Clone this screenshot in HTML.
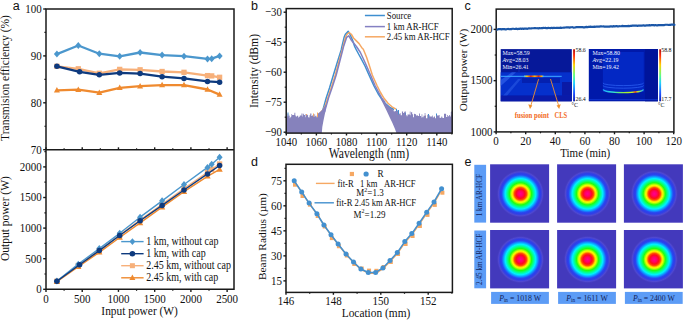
<!DOCTYPE html>
<html><head><meta charset="utf-8"><style>
html,body{margin:0;padding:0;background:#fff;width:685px;height:320px;overflow:hidden}
svg{display:block}
text{font-family:'Liberation Serif',serif}
</style></head><body>
<svg width="685" height="320" viewBox="0 0 685 320"><defs>
<linearGradient id="jet" x1="0" y1="0" x2="0" y2="1">
<stop offset="0" stop-color="#b01010"/><stop offset="0.12" stop-color="#ff3010"/><stop offset="0.3" stop-color="#ffd000"/>
<stop offset="0.5" stop-color="#60ff80"/><stop offset="0.65" stop-color="#20d0ff"/><stop offset="0.85" stop-color="#2050ff"/><stop offset="1" stop-color="#1020b0"/>
</linearGradient>
<linearGradient id="hot" x1="0" y1="0" x2="1" y2="0">
<stop offset="0" stop-color="#40c0ff"/><stop offset="0.15" stop-color="#ffd000"/><stop offset="0.35" stop-color="#e02010"/><stop offset="0.55" stop-color="#ffc000"/><stop offset="0.75" stop-color="#e02010"/><stop offset="0.9" stop-color="#ffb000"/><stop offset="1" stop-color="#40c0ff"/>
</linearGradient>
<linearGradient id="arc" x1="0" y1="0" x2="1" y2="0">
<stop offset="0" stop-color="#20b0ff"/><stop offset="0.25" stop-color="#30e0d0"/><stop offset="0.5" stop-color="#90f040"/><stop offset="0.72" stop-color="#c8f020"/><stop offset="0.8" stop-color="#ff5010"/><stop offset="0.86" stop-color="#b0f030"/><stop offset="1" stop-color="#20b0ff"/>
</linearGradient>
<radialGradient id="beam" cx="0.5" cy="0.5" r="0.5">
<stop offset="0" stop-color="#ff0090"/><stop offset="0.1" stop-color="#ff0068"/><stop offset="0.19" stop-color="#ff0a1a"/>
<stop offset="0.26" stop-color="#ff5000"/><stop offset="0.32" stop-color="#ffd800"/><stop offset="0.36" stop-color="#f0ff00"/>
<stop offset="0.46" stop-color="#20ff10"/><stop offset="0.56" stop-color="#00ffa0"/><stop offset="0.635" stop-color="#00f0ff"/>
<stop offset="0.72" stop-color="#1090ff"/><stop offset="0.785" stop-color="#2848f0"/><stop offset="0.84" stop-color="#2e3ee8"/>
<stop offset="0.92" stop-color="#5048d0"/><stop offset="1" stop-color="#4339bc" stop-opacity="0"/>
</radialGradient>
</defs><path d="M46,149.7 V9 H234 V289.3 H46 V149.7 H234" fill="none" stroke="#1a1a1a" stroke-width="1.5"/>
<line x1="43.2" y1="9" x2="46" y2="9" stroke="#1a1a1a" stroke-width="1.4" />
<text transform="translate(41.8,12.9) scale(1,1.18)" font-size="11" text-anchor="end" style="font-family:'Liberation Serif',serif" fill="#111" >100</text>
<line x1="43.2" y1="55.9" x2="46" y2="55.9" stroke="#1a1a1a" stroke-width="1.4" />
<text transform="translate(41.8,59.8) scale(1,1.18)" font-size="11" text-anchor="end" style="font-family:'Liberation Serif',serif" fill="#111" >90</text>
<line x1="43.2" y1="102.8" x2="46" y2="102.8" stroke="#1a1a1a" stroke-width="1.4" />
<text transform="translate(41.8,106.7) scale(1,1.18)" font-size="11" text-anchor="end" style="font-family:'Liberation Serif',serif" fill="#111" >80</text>
<line x1="43.2" y1="149.7" x2="46" y2="149.7" stroke="#1a1a1a" stroke-width="1.4" />
<text transform="translate(41.8,153.6) scale(1,1.18)" font-size="11" text-anchor="end" style="font-family:'Liberation Serif',serif" fill="#111" >70</text>
<line x1="44.4" y1="32.45" x2="46" y2="32.45" stroke="#1a1a1a" stroke-width="1.2" />
<line x1="44.4" y1="79.35" x2="46" y2="79.35" stroke="#1a1a1a" stroke-width="1.2" />
<line x1="44.4" y1="126.25" x2="46" y2="126.25" stroke="#1a1a1a" stroke-width="1.2" />
<line x1="43.2" y1="289.3" x2="46" y2="289.3" stroke="#1a1a1a" stroke-width="1.4" />
<text transform="translate(41.8,293.2) scale(1,1.18)" font-size="11" text-anchor="end" style="font-family:'Liberation Serif',serif" fill="#111" >0</text>
<line x1="43.2" y1="258.7" x2="46" y2="258.7" stroke="#1a1a1a" stroke-width="1.4" />
<text transform="translate(41.8,262.6) scale(1,1.18)" font-size="11" text-anchor="end" style="font-family:'Liberation Serif',serif" fill="#111" >500</text>
<line x1="43.2" y1="228.1" x2="46" y2="228.1" stroke="#1a1a1a" stroke-width="1.4" />
<text transform="translate(41.8,232) scale(1,1.18)" font-size="11" text-anchor="end" style="font-family:'Liberation Serif',serif" fill="#111" >1000</text>
<line x1="43.2" y1="197.5" x2="46" y2="197.5" stroke="#1a1a1a" stroke-width="1.4" />
<text transform="translate(41.8,201.4) scale(1,1.18)" font-size="11" text-anchor="end" style="font-family:'Liberation Serif',serif" fill="#111" >1500</text>
<line x1="43.2" y1="166.9" x2="46" y2="166.9" stroke="#1a1a1a" stroke-width="1.4" />
<text transform="translate(41.8,170.8) scale(1,1.18)" font-size="11" text-anchor="end" style="font-family:'Liberation Serif',serif" fill="#111" >2000</text>
<line x1="44.4" y1="274" x2="46" y2="274" stroke="#1a1a1a" stroke-width="1.2" />
<line x1="44.4" y1="243.4" x2="46" y2="243.4" stroke="#1a1a1a" stroke-width="1.2" />
<line x1="44.4" y1="212.8" x2="46" y2="212.8" stroke="#1a1a1a" stroke-width="1.2" />
<line x1="44.4" y1="182.2" x2="46" y2="182.2" stroke="#1a1a1a" stroke-width="1.2" />
<line x1="44.4" y1="151.6" x2="46" y2="151.6" stroke="#1a1a1a" stroke-width="1.2" />
<line x1="46" y1="289.3" x2="46" y2="291.9" stroke="#1a1a1a" stroke-width="1.4" />
<line x1="46" y1="149.7" x2="46" y2="147.3" stroke="#1a1a1a" stroke-width="1.4" />
<text transform="translate(46,303.3) scale(1,1.18)" font-size="11" text-anchor="middle" style="font-family:'Liberation Serif',serif" fill="#111" >0</text>
<line x1="82.22" y1="289.3" x2="82.22" y2="291.9" stroke="#1a1a1a" stroke-width="1.4" />
<line x1="82.22" y1="149.7" x2="82.22" y2="147.3" stroke="#1a1a1a" stroke-width="1.4" />
<text transform="translate(82.22,303.3) scale(1,1.18)" font-size="11" text-anchor="middle" style="font-family:'Liberation Serif',serif" fill="#111" >500</text>
<line x1="118.45" y1="289.3" x2="118.45" y2="291.9" stroke="#1a1a1a" stroke-width="1.4" />
<line x1="118.45" y1="149.7" x2="118.45" y2="147.3" stroke="#1a1a1a" stroke-width="1.4" />
<text transform="translate(118.45,303.3) scale(1,1.18)" font-size="11" text-anchor="middle" style="font-family:'Liberation Serif',serif" fill="#111" >1000</text>
<line x1="154.68" y1="289.3" x2="154.68" y2="291.9" stroke="#1a1a1a" stroke-width="1.4" />
<line x1="154.68" y1="149.7" x2="154.68" y2="147.3" stroke="#1a1a1a" stroke-width="1.4" />
<text transform="translate(154.68,303.3) scale(1,1.18)" font-size="11" text-anchor="middle" style="font-family:'Liberation Serif',serif" fill="#111" >1500</text>
<line x1="190.9" y1="289.3" x2="190.9" y2="291.9" stroke="#1a1a1a" stroke-width="1.4" />
<line x1="190.9" y1="149.7" x2="190.9" y2="147.3" stroke="#1a1a1a" stroke-width="1.4" />
<text transform="translate(190.9,303.3) scale(1,1.18)" font-size="11" text-anchor="middle" style="font-family:'Liberation Serif',serif" fill="#111" >2000</text>
<line x1="227.12" y1="289.3" x2="227.12" y2="291.9" stroke="#1a1a1a" stroke-width="1.4" />
<line x1="227.12" y1="149.7" x2="227.12" y2="147.3" stroke="#1a1a1a" stroke-width="1.4" />
<text transform="translate(227.12,303.3) scale(1,1.18)" font-size="11" text-anchor="middle" style="font-family:'Liberation Serif',serif" fill="#111" >2500</text>
<line x1="64.11" y1="289.3" x2="64.11" y2="290.8" stroke="#1a1a1a" stroke-width="1.2" />
<line x1="64.11" y1="149.7" x2="64.11" y2="148.3" stroke="#1a1a1a" stroke-width="1.2" />
<line x1="100.34" y1="289.3" x2="100.34" y2="290.8" stroke="#1a1a1a" stroke-width="1.2" />
<line x1="100.34" y1="149.7" x2="100.34" y2="148.3" stroke="#1a1a1a" stroke-width="1.2" />
<line x1="136.56" y1="289.3" x2="136.56" y2="290.8" stroke="#1a1a1a" stroke-width="1.2" />
<line x1="136.56" y1="149.7" x2="136.56" y2="148.3" stroke="#1a1a1a" stroke-width="1.2" />
<line x1="172.79" y1="289.3" x2="172.79" y2="290.8" stroke="#1a1a1a" stroke-width="1.2" />
<line x1="172.79" y1="149.7" x2="172.79" y2="148.3" stroke="#1a1a1a" stroke-width="1.2" />
<line x1="209.01" y1="289.3" x2="209.01" y2="290.8" stroke="#1a1a1a" stroke-width="1.2" />
<line x1="209.01" y1="149.7" x2="209.01" y2="148.3" stroke="#1a1a1a" stroke-width="1.2" />
<text transform="translate(139.6,315.3) scale(1,1.18)" font-size="11.4" text-anchor="middle" style="font-family:'Liberation Serif',serif" fill="#111" >Input power (W)</text>
<text transform="translate(8.5,78) rotate(-90)" font-size="11.5" text-anchor="middle" style="font-family:'Liberation Serif',serif" fill="#111">Transmision efficiency (%)</text>
<text transform="translate(9.2,218.6) rotate(-90)" font-size="11.5" text-anchor="middle" style="font-family:'Liberation Serif',serif" fill="#111">Output power (W)</text>
<text transform="translate(16.2,9.8) scale(1,1.08)" font-size="12.5" text-anchor="middle" style="font-family:'Liberation Sans',sans-serif" fill="#111" >a</text>
<polyline points="56.9,66.3 78.3,68.8 99.3,73.3 119.7,69.4 140.1,69.8 162.1,71.5 184,72.3 207.5,75.6 211.7,75.9 219.6,77.3" fill="none" stroke="#f7b07a" stroke-width="2.3" stroke-linejoin="round" />
<rect x="54.25" y="63.65" width="5.3" height="5.3" fill="#f7b07a"/>
<rect x="75.65" y="66.15" width="5.3" height="5.3" fill="#f7b07a"/>
<rect x="96.65" y="70.65" width="5.3" height="5.3" fill="#f7b07a"/>
<rect x="117.05" y="66.75" width="5.3" height="5.3" fill="#f7b07a"/>
<rect x="137.45" y="67.15" width="5.3" height="5.3" fill="#f7b07a"/>
<rect x="159.45" y="68.85" width="5.3" height="5.3" fill="#f7b07a"/>
<rect x="181.35" y="69.65" width="5.3" height="5.3" fill="#f7b07a"/>
<rect x="204.85" y="72.95" width="5.3" height="5.3" fill="#f7b07a"/>
<rect x="209.05" y="73.25" width="5.3" height="5.3" fill="#f7b07a"/>
<rect x="216.95" y="74.65" width="5.3" height="5.3" fill="#f7b07a"/>
<polyline points="56.9,90.3 78.3,89.7 99.3,92.7 119.7,87.8 140.1,86.2 162.1,85.1 184,85.1 207.5,89.5 219.6,94.6" fill="none" stroke="#ef8a2f" stroke-width="2.3" stroke-linejoin="round" />
<path d="M56.9,87 L59.9,92.5 L53.9,92.5Z" fill="#ef8a2f"/>
<path d="M78.3,86.4 L81.3,91.9 L75.3,91.9Z" fill="#ef8a2f"/>
<path d="M99.3,89.4 L102.3,94.9 L96.3,94.9Z" fill="#ef8a2f"/>
<path d="M119.7,84.5 L122.7,90 L116.7,90Z" fill="#ef8a2f"/>
<path d="M140.1,82.9 L143.1,88.4 L137.1,88.4Z" fill="#ef8a2f"/>
<path d="M162.1,81.8 L165.1,87.3 L159.1,87.3Z" fill="#ef8a2f"/>
<path d="M184,81.8 L187,87.3 L181,87.3Z" fill="#ef8a2f"/>
<path d="M207.5,86.2 L210.5,91.7 L204.5,91.7Z" fill="#ef8a2f"/>
<path d="M219.6,91.3 L222.6,96.8 L216.6,96.8Z" fill="#ef8a2f"/>
<polyline points="56.9,54.1 78.3,45.5 99.3,53.7 119.7,56.3 140.1,52.5 162.1,55.1 184,56.2 207.5,58.9 211.7,58.7 219.6,55.9" fill="none" stroke="#4b97cd" stroke-width="2.3" stroke-linejoin="round" />
<path d="M56.9,50.6 L59.9,54.1 L56.9,57.6 L53.9,54.1Z" fill="#4b97cd"/>
<path d="M78.3,42 L81.3,45.5 L78.3,49 L75.3,45.5Z" fill="#4b97cd"/>
<path d="M99.3,50.2 L102.3,53.7 L99.3,57.2 L96.3,53.7Z" fill="#4b97cd"/>
<path d="M119.7,52.8 L122.7,56.3 L119.7,59.8 L116.7,56.3Z" fill="#4b97cd"/>
<path d="M140.1,49 L143.1,52.5 L140.1,56 L137.1,52.5Z" fill="#4b97cd"/>
<path d="M162.1,51.6 L165.1,55.1 L162.1,58.6 L159.1,55.1Z" fill="#4b97cd"/>
<path d="M184,52.7 L187,56.2 L184,59.7 L181,56.2Z" fill="#4b97cd"/>
<path d="M207.5,55.4 L210.5,58.9 L207.5,62.4 L204.5,58.9Z" fill="#4b97cd"/>
<path d="M211.7,55.2 L214.7,58.7 L211.7,62.2 L208.7,58.7Z" fill="#4b97cd"/>
<path d="M219.6,52.4 L222.6,55.9 L219.6,59.4 L216.6,55.9Z" fill="#4b97cd"/>
<polyline points="56.9,66.3 79.6,71.8 99.3,74.8 119.7,72.9 140.1,73.6 162.1,76.7 184,78.4 207.5,81.4 219.6,82.2" fill="none" stroke="#0e3a7e" stroke-width="2.3" stroke-linejoin="round" />
<circle cx="56.9" cy="66.3" r="2.75" fill="#0e3a7e"/>
<circle cx="79.6" cy="71.8" r="2.75" fill="#0e3a7e"/>
<circle cx="99.3" cy="74.8" r="2.75" fill="#0e3a7e"/>
<circle cx="119.7" cy="72.9" r="2.75" fill="#0e3a7e"/>
<circle cx="140.1" cy="73.6" r="2.75" fill="#0e3a7e"/>
<circle cx="162.1" cy="76.7" r="2.75" fill="#0e3a7e"/>
<circle cx="184" cy="78.4" r="2.75" fill="#0e3a7e"/>
<circle cx="207.5" cy="81.4" r="2.75" fill="#0e3a7e"/>
<circle cx="219.6" cy="82.2" r="2.75" fill="#0e3a7e"/>
<polyline points="56.9,281.22 78.3,265.49 99.3,250.45 119.7,235.06 140.1,220.12 162.1,204.3 184,188.46 207.5,172.25 211.7,169.3 219.6,164.01" fill="none" stroke="#f7b07a" stroke-width="1.4" stroke-linejoin="round" />
<rect x="54.25" y="278.57" width="5.3" height="5.3" fill="#f7b07a"/>
<rect x="75.65" y="262.84" width="5.3" height="5.3" fill="#f7b07a"/>
<rect x="96.65" y="247.8" width="5.3" height="5.3" fill="#f7b07a"/>
<rect x="117.05" y="232.41" width="5.3" height="5.3" fill="#f7b07a"/>
<rect x="137.45" y="217.47" width="5.3" height="5.3" fill="#f7b07a"/>
<rect x="159.45" y="201.65" width="5.3" height="5.3" fill="#f7b07a"/>
<rect x="181.35" y="185.81" width="5.3" height="5.3" fill="#f7b07a"/>
<rect x="204.85" y="169.6" width="5.3" height="5.3" fill="#f7b07a"/>
<rect x="209.05" y="166.65" width="5.3" height="5.3" fill="#f7b07a"/>
<rect x="216.95" y="161.36" width="5.3" height="5.3" fill="#f7b07a"/>
<polyline points="56.9,281.69 78.3,266.71 99.3,252.31 119.7,237.5 140.1,222.9 162.1,207.14 184,191.64 207.5,176.29 219.6,169.42" fill="none" stroke="#ef8a2f" stroke-width="1.4" stroke-linejoin="round" />
<path d="M56.9,278.22 L60.05,284 L53.75,284Z" fill="#ef8a2f"/>
<path d="M78.3,263.25 L81.45,269.02 L75.15,269.02Z" fill="#ef8a2f"/>
<path d="M99.3,248.85 L102.45,254.62 L96.15,254.62Z" fill="#ef8a2f"/>
<path d="M119.7,234.04 L122.85,239.81 L116.55,239.81Z" fill="#ef8a2f"/>
<path d="M140.1,219.43 L143.25,225.21 L136.95,225.21Z" fill="#ef8a2f"/>
<path d="M162.1,203.68 L165.25,209.45 L158.95,209.45Z" fill="#ef8a2f"/>
<path d="M184,188.18 L187.15,193.95 L180.85,193.95Z" fill="#ef8a2f"/>
<path d="M207.5,172.83 L210.65,178.6 L204.35,178.6Z" fill="#ef8a2f"/>
<path d="M219.6,165.96 L222.75,171.73 L216.45,171.73Z" fill="#ef8a2f"/>
<polyline points="56.9,280.98 78.3,264.14 99.3,248.57 119.7,233.32 140.1,217.18 162.1,200.87 184,184.46 207.5,167.39 211.7,164.16 219.6,157.32" fill="none" stroke="#4b97cd" stroke-width="1.4" stroke-linejoin="round" />
<path d="M56.9,277.48 L59.9,280.98 L56.9,284.48 L53.9,280.98Z" fill="#4b97cd"/>
<path d="M78.3,260.64 L81.3,264.14 L78.3,267.64 L75.3,264.14Z" fill="#4b97cd"/>
<path d="M99.3,245.07 L102.3,248.57 L99.3,252.07 L96.3,248.57Z" fill="#4b97cd"/>
<path d="M119.7,229.82 L122.7,233.32 L119.7,236.82 L116.7,233.32Z" fill="#4b97cd"/>
<path d="M140.1,213.68 L143.1,217.18 L140.1,220.68 L137.1,217.18Z" fill="#4b97cd"/>
<path d="M162.1,197.37 L165.1,200.87 L162.1,204.37 L159.1,200.87Z" fill="#4b97cd"/>
<path d="M184,180.96 L187,184.46 L184,187.96 L181,184.46Z" fill="#4b97cd"/>
<path d="M207.5,163.89 L210.5,167.39 L207.5,170.89 L204.5,167.39Z" fill="#4b97cd"/>
<path d="M211.7,160.66 L214.7,164.16 L211.7,167.66 L208.7,164.16Z" fill="#4b97cd"/>
<path d="M219.6,153.82 L222.6,157.32 L219.6,160.82 L216.6,157.32Z" fill="#4b97cd"/>
<polyline points="56.9,281.22 79.6,264.72 99.3,250.59 119.7,235.53 140.1,220.76 162.1,205.38 184,189.98 207.5,173.94 219.6,165.54" fill="none" stroke="#0e3a7e" stroke-width="1.4" stroke-linejoin="round" />
<circle cx="56.9" cy="281.22" r="2.75" fill="#0e3a7e"/>
<circle cx="79.6" cy="264.72" r="2.75" fill="#0e3a7e"/>
<circle cx="99.3" cy="250.59" r="2.75" fill="#0e3a7e"/>
<circle cx="119.7" cy="235.53" r="2.75" fill="#0e3a7e"/>
<circle cx="140.1" cy="220.76" r="2.75" fill="#0e3a7e"/>
<circle cx="162.1" cy="205.38" r="2.75" fill="#0e3a7e"/>
<circle cx="184" cy="189.98" r="2.75" fill="#0e3a7e"/>
<circle cx="207.5" cy="173.94" r="2.75" fill="#0e3a7e"/>
<circle cx="219.6" cy="165.54" r="2.75" fill="#0e3a7e"/>
<line x1="121.2" y1="241.6" x2="143.6" y2="241.6" stroke="#4b97cd" stroke-width="1.4" />
<path d="M132.4,238.3 L135.3,241.6 L132.4,244.9 L129.5,241.6Z" fill="#4b97cd"/>
<text transform="translate(146.3,245) scale(1,1.18)" font-size="10" text-anchor="start" style="font-family:'Liberation Serif',serif" fill="#111" >1 km, without cap</text>
<line x1="121.2" y1="253.7" x2="143.6" y2="253.7" stroke="#0e3a7e" stroke-width="1.4" />
<circle cx="132.4" cy="253.7" r="2.8" fill="#0e3a7e"/>
<text transform="translate(146.3,257.1) scale(1,1.18)" font-size="10" text-anchor="start" style="font-family:'Liberation Serif',serif" fill="#111" >1 km, with cap</text>
<line x1="121.2" y1="265.7" x2="143.6" y2="265.7" stroke="#f7b07a" stroke-width="1.4" />
<rect x="129.9" y="263.2" width="5" height="5" fill="#f7b07a"/>
<text transform="translate(146.3,269.1) scale(1,1.18)" font-size="10" text-anchor="start" style="font-family:'Liberation Serif',serif" fill="#111" >2.45 km, without cap</text>
<line x1="121.2" y1="277.8" x2="143.6" y2="277.8" stroke="#ef8a2f" stroke-width="1.4" />
<path d="M132.4,274.56 L135.4,279.96 L129.4,279.96Z" fill="#ef8a2f"/>
<text transform="translate(146.3,281.2) scale(1,1.18)" font-size="10" text-anchor="start" style="font-family:'Liberation Serif',serif" fill="#111" >2.45 km, with cap</text>
<polyline points="322,113 324,106 326.2,98 329.5,88 333.4,75 337.4,62 341.2,50 341.9,46.75 344.1,37.4 345.4,34.25 348.2,31.4 350,34.25 352.5,40 354.75,46.75 356.4,50 360.5,57.5 365,66 369,75 374,86 378,93.5 382,99.5 386,104.2 390,107.5 394,109.5" fill="none" stroke="#3e8fd0" stroke-width="1.5" stroke-linejoin="round" />
<polyline points="320,113 323,110 325.5,105 327.8,98 331.5,87 335.3,75 338.8,62 342.2,50 343,46.75 345.3,38 346.8,34.5 349.1,32.5 351.3,34.25 353.5,38 356.6,41.1 359.1,43.6 361.6,47.4 363.3,49.2 366.5,57 369.5,66 372.3,75 377,85.5 380.5,92.5 384,98.3 388,103.3 392,106.8 396,109.2" fill="none" stroke="#f6a863" stroke-width="1.5" stroke-linejoin="round" />
<rect x="287.5" y="112.5" width="1" height="6" fill="#3e8fd0"/>
<rect x="306" y="114" width="1" height="6" fill="#f6a863"/>
<rect x="313" y="113.5" width="1" height="6" fill="#f6a863"/>
<rect x="317" y="112.5" width="1" height="6" fill="#f6a863"/>
<rect x="396" y="108.8" width="1" height="6" fill="#3e8fd0"/>
<rect x="398" y="110" width="1" height="6" fill="#3e8fd0"/>
<rect x="405" y="112.5" width="1" height="6" fill="#3e8fd0"/>
<rect x="428" y="114" width="1" height="6" fill="#3e8fd0"/>
<rect x="436" y="113.5" width="1" height="6" fill="#3e8fd0"/>
<rect x="425" y="115.5" width="1" height="6" fill="#f6a863"/>
<rect x="450.8" y="112" width="1" height="6" fill="#9a98d8"/>
<path d="M286.2,133.1 L286.2,116.69 L287.1,116.69 L287.1,113.69 L287.6,113.69 L287.6,116.25 L288.5,116.25 L288.5,114.59 L289.2,114.59 L289.2,115.69 L289.7,115.69 L289.7,118.16 L290.2,118.16 L290.2,117.2 L290.9,117.2 L290.9,116.57 L291.4,116.57 L291.4,113.96 L292.1,113.96 L292.1,114.94 L293,114.94 L293,114.92 L293.9,114.92 L293.9,114.74 L294.4,114.74 L294.4,112.76 L295.3,112.76 L295.3,115.39 L295.8,115.39 L295.8,116.43 L297,116.43 L297,115.65 L298.2,115.65 L298.2,117.62 L298.9,117.62 L298.9,116.85 L299.8,116.85 L299.8,115.41 L301,115.41 L301,115.4 L301.5,115.4 L301.5,113.5 L302.4,113.5 L302.4,116.42 L302.9,116.42 L302.9,113.73 L303.8,113.73 L303.8,114.95 L305,114.95 L305,117.31 L305.5,117.31 L305.5,114.02 L306,114.02 L306,115.34 L307.2,115.34 L307.2,114.78 L308.1,114.78 L308.1,117.14 L308.8,117.14 L308.8,117.41 L309.5,117.41 L309.5,115.31 L310.2,115.31 L310.2,113.4 L311.4,113.4 L311.4,116.09 L312.3,116.09 L312.3,115.31 L313.2,115.31 L313.2,116.78 L314.4,116.78 L314.4,114.34 L315.1,114.34 L315.1,116.27 L315.6,116.27 L315.6,115.7 L316.5,115.7 L316.5,117.26 L317.4,117.26 L317.4,117.32 L318,117.32 L318,113.5 L320,112 L322,110 L324.2,107 L325.8,104.5 L326.2,106 L325.5,111 L323.4,121 L322.3,127 L321.8,133.1Z" fill="#8682bc"/>
<path d="M396.4,133.1 L395,129 L392.2,122.5 L390,118 L386.5,110.5 L383,103.5 L380.5,98.6 L383,100.8 L386.5,104.3 L390,107.5 L393.5,110 L394,111.7 L394.5,111.7 L394.5,111.08 L395.7,111.08 L395.7,111.17 L396.9,111.17 L396.9,110.87 L397.6,110.87 L397.6,109.99 L398.1,109.99 L398.1,114.24 L398.6,114.24 L398.6,114.4 L399.1,114.4 L399.1,113.72 L399.8,113.72 L399.8,113.25 L400.7,113.25 L400.7,115.28 L401.9,115.28 L401.9,111.44 L403.1,111.44 L403.1,112.92 L404,112.92 L404,112.34 L404.7,112.34 L404.7,111.36 L405.6,111.36 L405.6,114.95 L406.1,114.95 L406.1,115.05 L406.6,115.05 L406.6,116.18 L407.5,116.18 L407.5,114.4 L408.2,114.4 L408.2,114.42 L409.1,114.42 L409.1,114.53 L409.8,114.53 L409.8,111.6 L410.5,111.6 L410.5,115.18 L411,115.18 L411,112.27 L412.2,112.27 L412.2,114.27 L413.1,114.27 L413.1,117.25 L414,117.25 L414,113.7 L414.7,113.7 L414.7,113.88 L415.6,113.88 L415.6,114.46 L416.1,114.46 L416.1,115.69 L416.6,115.69 L416.6,115.25 L417.8,115.25 L417.8,115.96 L419,115.96 L419,113.54 L419.9,113.54 L419.9,116.02 L421.1,116.02 L421.1,117.46 L421.6,117.46 L421.6,114.2 L422.3,114.2 L422.3,117.16 L423.5,117.16 L423.5,115.77 L424.7,115.77 L424.7,113.03 L425.4,113.03 L425.4,115.71 L425.9,115.71 L425.9,118.18 L427.1,118.18 L427.1,114.82 L427.8,114.82 L427.8,118.14 L428.5,118.14 L428.5,115.2 L429.7,115.2 L429.7,116.41 L430.9,116.41 L430.9,116.45 L432.1,116.45 L432.1,115.52 L432.8,115.52 L432.8,117.6 L433.3,117.6 L433.3,117.62 L433.8,117.62 L433.8,116.64 L434.5,116.64 L434.5,116.23 L435,116.23 L435,118.18 L436.2,118.18 L436.2,115.01 L436.7,115.01 L436.7,115.71 L437.2,115.71 L437.2,115.05 L437.7,115.05 L437.7,115.91 L438.4,115.91 L438.4,115.08 L439.6,115.08 L439.6,117.66 L440.5,117.66 L440.5,118.07 L441.2,118.07 L441.2,116.47 L441.7,116.47 L441.7,116.68 L442.4,116.68 L442.4,117.98 L443.3,117.98 L443.3,117.95 L444,117.95 L444,113.85 L444.9,113.85 L444.9,113.78 L446.1,113.78 L446.1,117.1 L447.3,117.1 L447.3,114.94 L448,114.94 L448,116.17 L449.2,116.17 L449.2,115.04 L450.1,115.04 L450.1,116.41 L451,116.41 L451,114.9 L451.5,114.9 L451.5,111.23 L452.2,111.23 L452.2,133.1Z" fill="#8682bc"/>
<polyline points="324.5,112 326.5,105 328.5,98 332.3,87 336.2,75 339.6,62 342.7,50 343.5,46.75 346.6,37.4 348.8,35.8 351.6,40.5 356.6,46.75 358.75,50 360.4,52.5 365.5,63.5 370.5,75 375,85.5 379,93 382,98.5 385,102.5" fill="none" stroke="#8480c2" stroke-width="1.5" stroke-linejoin="round" />
<rect x="286.2" y="8.6" width="166.0" height="124.5" fill="none" stroke="#1a1a1a" stroke-width="1.5"/>
<line x1="283.6" y1="12.2" x2="286.2" y2="12.2" stroke="#1a1a1a" stroke-width="1.4" />
<text transform="translate(281.8,15.9) scale(1,1.18)" font-size="10.8" text-anchor="end" style="font-family:'Liberation Serif',serif" fill="#111" >&#8722;30</text>
<line x1="283.6" y1="42.2" x2="286.2" y2="42.2" stroke="#1a1a1a" stroke-width="1.4" />
<text transform="translate(281.8,45.9) scale(1,1.18)" font-size="10.8" text-anchor="end" style="font-family:'Liberation Serif',serif" fill="#111" >&#8722;45</text>
<line x1="283.6" y1="72.2" x2="286.2" y2="72.2" stroke="#1a1a1a" stroke-width="1.4" />
<text transform="translate(281.8,75.9) scale(1,1.18)" font-size="10.8" text-anchor="end" style="font-family:'Liberation Serif',serif" fill="#111" >&#8722;60</text>
<line x1="283.6" y1="102.2" x2="286.2" y2="102.2" stroke="#1a1a1a" stroke-width="1.4" />
<text transform="translate(281.8,105.9) scale(1,1.18)" font-size="10.8" text-anchor="end" style="font-family:'Liberation Serif',serif" fill="#111" >&#8722;75</text>
<line x1="283.6" y1="132.2" x2="286.2" y2="132.2" stroke="#1a1a1a" stroke-width="1.4" />
<text transform="translate(281.8,135.9) scale(1,1.18)" font-size="10.8" text-anchor="end" style="font-family:'Liberation Serif',serif" fill="#111" >&#8722;90</text>
<line x1="284.7" y1="27.2" x2="286.2" y2="27.2" stroke="#1a1a1a" stroke-width="1.2" />
<line x1="284.7" y1="57.2" x2="286.2" y2="57.2" stroke="#1a1a1a" stroke-width="1.2" />
<line x1="284.7" y1="87.2" x2="286.2" y2="87.2" stroke="#1a1a1a" stroke-width="1.2" />
<line x1="284.7" y1="117.2" x2="286.2" y2="117.2" stroke="#1a1a1a" stroke-width="1.2" />
<line x1="286.3" y1="133.1" x2="286.3" y2="135.5" stroke="#1a1a1a" stroke-width="1.4" />
<text transform="translate(286.3,146) scale(1,1.18)" font-size="10.8" text-anchor="middle" style="font-family:'Liberation Serif',serif" fill="#111" >1040</text>
<line x1="316.4" y1="133.1" x2="316.4" y2="135.5" stroke="#1a1a1a" stroke-width="1.4" />
<text transform="translate(316.4,146) scale(1,1.18)" font-size="10.8" text-anchor="middle" style="font-family:'Liberation Serif',serif" fill="#111" >1060</text>
<line x1="346.5" y1="133.1" x2="346.5" y2="135.5" stroke="#1a1a1a" stroke-width="1.4" />
<text transform="translate(346.5,146) scale(1,1.18)" font-size="10.8" text-anchor="middle" style="font-family:'Liberation Serif',serif" fill="#111" >1080</text>
<line x1="376.6" y1="133.1" x2="376.6" y2="135.5" stroke="#1a1a1a" stroke-width="1.4" />
<text transform="translate(376.6,146) scale(1,1.18)" font-size="10.8" text-anchor="middle" style="font-family:'Liberation Serif',serif" fill="#111" >1100</text>
<line x1="406.7" y1="133.1" x2="406.7" y2="135.5" stroke="#1a1a1a" stroke-width="1.4" />
<text transform="translate(406.7,146) scale(1,1.18)" font-size="10.8" text-anchor="middle" style="font-family:'Liberation Serif',serif" fill="#111" >1120</text>
<line x1="436.8" y1="133.1" x2="436.8" y2="135.5" stroke="#1a1a1a" stroke-width="1.4" />
<text transform="translate(436.8,146) scale(1,1.18)" font-size="10.8" text-anchor="middle" style="font-family:'Liberation Serif',serif" fill="#111" >1140</text>
<line x1="301.35" y1="133.1" x2="301.35" y2="134.5" stroke="#1a1a1a" stroke-width="1.2" />
<line x1="331.45" y1="133.1" x2="331.45" y2="134.5" stroke="#1a1a1a" stroke-width="1.2" />
<line x1="361.55" y1="133.1" x2="361.55" y2="134.5" stroke="#1a1a1a" stroke-width="1.2" />
<line x1="391.65" y1="133.1" x2="391.65" y2="134.5" stroke="#1a1a1a" stroke-width="1.2" />
<line x1="421.75" y1="133.1" x2="421.75" y2="134.5" stroke="#1a1a1a" stroke-width="1.2" />
<line x1="451.85" y1="133.1" x2="451.85" y2="134.5" stroke="#1a1a1a" stroke-width="1.2" />
<text transform="translate(369,158) scale(1,1.18)" font-size="11.6" text-anchor="middle" style="font-family:'Liberation Serif',serif" fill="#111" >Wavelength (nm)</text>
<text transform="translate(258,71) rotate(-90)" font-size="11.65" text-anchor="middle" style="font-family:'Liberation Serif',serif" fill="#111">Intensity (dBm)</text>
<text transform="translate(254.5,10.2) scale(1,1.08)" font-size="12.5" text-anchor="middle" style="font-family:'Liberation Sans',sans-serif" fill="#111" >b</text>
<line x1="364.9" y1="15.5" x2="384.9" y2="15.5" stroke="#3e8fd0" stroke-width="1.5" />
<text transform="translate(386.8,18.5) scale(1,1.18)" font-size="8.8" text-anchor="start" style="font-family:'Liberation Serif',serif" fill="#111" >Source</text>
<line x1="364.9" y1="26.6" x2="384.9" y2="26.6" stroke="#8480c2" stroke-width="1.5" />
<text transform="translate(386.8,29.6) scale(1,1.18)" font-size="8.8" text-anchor="start" style="font-family:'Liberation Serif',serif" fill="#111" >1 km AR-HCF</text>
<line x1="364.9" y1="36.8" x2="384.9" y2="36.8" stroke="#f6a863" stroke-width="1.5" />
<text transform="translate(386.8,39.8) scale(1,1.18)" font-size="8.8" text-anchor="start" style="font-family:'Liberation Serif',serif" fill="#111" >2.45 km AR-HCF</text>
<rect x="496.2" y="9.1" width="177.7" height="122.80000000000001" fill="none" stroke="#1a1a1a" stroke-width="1.5"/>
<line x1="493.6" y1="131.9" x2="496.2" y2="131.9" stroke="#1a1a1a" stroke-width="1.4" />
<text transform="translate(492.4,135.7) scale(1,1.18)" font-size="11" text-anchor="end" style="font-family:'Liberation Serif',serif" fill="#111" >1000</text>
<line x1="493.6" y1="80.65" x2="496.2" y2="80.65" stroke="#1a1a1a" stroke-width="1.4" />
<text transform="translate(492.4,84.45) scale(1,1.18)" font-size="11" text-anchor="end" style="font-family:'Liberation Serif',serif" fill="#111" >1500</text>
<line x1="493.6" y1="29.4" x2="496.2" y2="29.4" stroke="#1a1a1a" stroke-width="1.4" />
<text transform="translate(492.4,33.2) scale(1,1.18)" font-size="11" text-anchor="end" style="font-family:'Liberation Serif',serif" fill="#111" >2000</text>
<line x1="494.7" y1="106.28" x2="496.2" y2="106.28" stroke="#1a1a1a" stroke-width="1.2" />
<line x1="494.7" y1="55.03" x2="496.2" y2="55.03" stroke="#1a1a1a" stroke-width="1.2" />
<line x1="496.1" y1="131.9" x2="496.1" y2="134.3" stroke="#1a1a1a" stroke-width="1.4" />
<text transform="translate(496.1,144.6) scale(1,1.18)" font-size="11" text-anchor="middle" style="font-family:'Liberation Serif',serif" fill="#111" >0</text>
<line x1="525.7" y1="131.9" x2="525.7" y2="134.3" stroke="#1a1a1a" stroke-width="1.4" />
<text transform="translate(525.7,144.6) scale(1,1.18)" font-size="11" text-anchor="middle" style="font-family:'Liberation Serif',serif" fill="#111" >20</text>
<line x1="555.3" y1="131.9" x2="555.3" y2="134.3" stroke="#1a1a1a" stroke-width="1.4" />
<text transform="translate(555.3,144.6) scale(1,1.18)" font-size="11" text-anchor="middle" style="font-family:'Liberation Serif',serif" fill="#111" >40</text>
<line x1="584.9" y1="131.9" x2="584.9" y2="134.3" stroke="#1a1a1a" stroke-width="1.4" />
<text transform="translate(584.9,144.6) scale(1,1.18)" font-size="11" text-anchor="middle" style="font-family:'Liberation Serif',serif" fill="#111" >60</text>
<line x1="614.5" y1="131.9" x2="614.5" y2="134.3" stroke="#1a1a1a" stroke-width="1.4" />
<text transform="translate(614.5,144.6) scale(1,1.18)" font-size="11" text-anchor="middle" style="font-family:'Liberation Serif',serif" fill="#111" >80</text>
<line x1="644.1" y1="131.9" x2="644.1" y2="134.3" stroke="#1a1a1a" stroke-width="1.4" />
<text transform="translate(644.1,144.6) scale(1,1.18)" font-size="11" text-anchor="middle" style="font-family:'Liberation Serif',serif" fill="#111" >100</text>
<line x1="673.7" y1="131.9" x2="673.7" y2="134.3" stroke="#1a1a1a" stroke-width="1.4" />
<text transform="translate(673.7,144.6) scale(1,1.18)" font-size="11" text-anchor="middle" style="font-family:'Liberation Serif',serif" fill="#111" >120</text>
<line x1="510.9" y1="131.9" x2="510.9" y2="133.3" stroke="#1a1a1a" stroke-width="1.2" />
<line x1="540.5" y1="131.9" x2="540.5" y2="133.3" stroke="#1a1a1a" stroke-width="1.2" />
<line x1="570.1" y1="131.9" x2="570.1" y2="133.3" stroke="#1a1a1a" stroke-width="1.2" />
<line x1="599.7" y1="131.9" x2="599.7" y2="133.3" stroke="#1a1a1a" stroke-width="1.2" />
<line x1="629.3" y1="131.9" x2="629.3" y2="133.3" stroke="#1a1a1a" stroke-width="1.2" />
<line x1="658.9" y1="131.9" x2="658.9" y2="133.3" stroke="#1a1a1a" stroke-width="1.2" />
<text transform="translate(585.2,157.4) scale(1,1.18)" font-size="11" text-anchor="middle" style="font-family:'Liberation Serif',serif" fill="#111" >Time (min)</text>
<text transform="translate(466.6,70) rotate(-90)" font-size="11.2" text-anchor="middle" style="font-family:'Liberation Serif',serif" fill="#111">Output power (W)</text>
<text transform="translate(467.5,9.8) scale(1,1.08)" font-size="12.5" text-anchor="middle" style="font-family:'Liberation Sans',sans-serif" fill="#111" >c</text>
<polyline points="496.4,29.54 497.4,29.61 498.4,29.15 499.4,29.2 500.4,29.06 501.4,29.41 502.4,29.13 503.4,29.03 504.4,29.15 505.4,29.37 506.4,29.3 507.4,28.99 508.4,28.91 509.4,29.27 510.4,29.07 511.4,29.1 512.4,28.77 513.4,28.73 514.4,29.02 515.4,28.86 516.4,28.66 517.4,29.06 518.4,28.89 519.4,28.94 520.4,28.56 521.4,28.92 522.4,28.5 523.4,28.87 524.4,28.64 525.4,28.55 526.4,28.63 527.4,28.79 528.4,28.44 529.4,28.34 530.4,28.52 531.4,28.35 532.4,28.25 533.4,28.25 534.4,28.17 535.4,28.22 536.4,28.25 537.4,28.22 538.4,28.42 539.4,28.16 540.4,28.24 541.4,28.05 542.4,28.11 543.4,27.92 544.4,28.01 545.4,27.86 546.4,28.2 547.4,28.08 548.4,27.87 549.4,27.99 550.4,28.19 551.4,27.75 552.4,28.08 553.4,27.86 554.4,27.87 555.4,28.01 556.4,27.76 557.4,27.79 558.4,27.86 559.4,27.98 560.4,27.63 561.4,27.85 562.4,27.76 563.4,27.7 564.4,27.56 565.4,27.5 566.4,27.33 567.4,27.34 568.4,27.28 569.4,27.59 570.4,27.32 571.4,27.25 572.4,27.19 573.4,27.54 574.4,27.53 575.4,27.4 576.4,27.18 577.4,27.13 578.4,27.13 579.4,27.19 580.4,27.01 581.4,27.13 582.4,27.01 583.4,27.33 584.4,27.31 585.4,27.07 586.4,26.9 587.4,27.23 588.4,26.88 589.4,26.87 590.4,26.67 591.4,26.83 592.4,26.85 593.4,26.84 594.4,26.66 595.4,26.79 596.4,26.51 597.4,26.62 598.4,26.5 599.4,26.63 600.4,26.42 601.4,26.39 602.4,26.5 603.4,26.44 604.4,26.59 605.4,26.54 606.4,26.62 607.4,26.55 608.4,26.55 609.4,26.61 610.4,26.33 611.4,26.28 612.4,26.58 613.4,26.14 614.4,26.4 615.4,26.33 616.4,26 617.4,26.37 618.4,26.37 619.4,26.22 620.4,26.24 621.4,26.26 622.4,25.89 623.4,26.06 624.4,26.02 625.4,26.16 626.4,26.12 627.4,26.1 628.4,25.96 629.4,26.08 630.4,25.95 631.4,25.93 632.4,25.67 633.4,25.55 634.4,25.57 635.4,25.66 636.4,25.51 637.4,25.84 638.4,25.68 639.4,25.69 640.4,25.66 641.4,25.66 642.4,25.54 643.4,25.27 644.4,25.64 645.4,25.59 646.4,25.44 647.4,25.43 648.4,25.47 649.4,25.14 650.4,25.45 651.4,25.18 652.4,25.07 653.4,25.14 654.4,25.34 655.4,25.05 656.4,25.3 657.4,25.39 658.4,25.12 659.4,25.04 660.4,25.06 661.4,25.14 662.4,25.15 663.4,25.05 664.4,25.04 665.4,24.73 666.4,24.73 667.4,24.76 668.4,24.98 669.4,24.73 670.4,24.84 671.4,24.54 672.4,24.53 673.4,24.61 674.4,24.79 673.8,24.7" fill="none" stroke="#1b57a8" stroke-width="2.2" stroke-linejoin="round" />
<polyline points="294.5,181.5 302,192.7 309.4,203.8 317.2,214.45 324.2,225.7 331.3,235.45 338.4,244.7 346.3,254.7 353.8,262.8 361.2,269.7 368.55,273.2 375.9,273.2 383.2,268.6 390.3,261.3 397.55,253.3 405.1,242.3 412.1,234.3 419.4,224 427,212.9 434.3,202.6 441.9,189.45" fill="none" stroke="#f6a863" stroke-width="1.4" stroke-linejoin="round" />
<rect x="293" y="182.7" width="4" height="4" fill="#f6a863"/>
<rect x="300.5" y="194" width="4" height="4" fill="#f6a863"/>
<rect x="307.9" y="202.7" width="4" height="4" fill="#f6a863"/>
<rect x="315.7" y="214" width="4" height="4" fill="#f6a863"/>
<rect x="322.7" y="224.5" width="4" height="4" fill="#f6a863"/>
<rect x="329.8" y="236.1" width="4" height="4" fill="#f6a863"/>
<rect x="336.9" y="244.25" width="4" height="4" fill="#f6a863"/>
<rect x="344.8" y="253.5" width="4" height="4" fill="#f6a863"/>
<rect x="352.3" y="262" width="4" height="4" fill="#f6a863"/>
<rect x="359.7" y="266.5" width="4" height="4" fill="#f6a863"/>
<rect x="367.05" y="268.6" width="4" height="4" fill="#f6a863"/>
<rect x="374.4" y="268.8" width="4" height="4" fill="#f6a863"/>
<rect x="381.7" y="265" width="4" height="4" fill="#f6a863"/>
<rect x="388.8" y="260" width="4" height="4" fill="#f6a863"/>
<rect x="396.05" y="252" width="4" height="4" fill="#f6a863"/>
<rect x="403.6" y="242" width="4" height="4" fill="#f6a863"/>
<rect x="410.6" y="234" width="4" height="4" fill="#f6a863"/>
<rect x="417.9" y="224" width="4" height="4" fill="#f6a863"/>
<rect x="425.5" y="212.9" width="4" height="4" fill="#f6a863"/>
<rect x="432.8" y="202.9" width="4" height="4" fill="#f6a863"/>
<rect x="440.4" y="190.7" width="4" height="4" fill="#f6a863"/>
<polyline points="294.2,180.8 301.7,192 309.1,203.1 316.9,213.75 323.9,225 331,234.75 338.1,244 346,254 353.5,262.1 360.9,269 368.25,272.5 375.6,272.5 382.9,267.9 390,260.6 397.25,252.6 404.8,241.6 411.8,233.6 419.1,223.3 426.7,212.2 434,201.9 441.6,188.75" fill="none" stroke="#4390cf" stroke-width="1.5" stroke-linejoin="round" />
<circle cx="294.2" cy="180.8" r="2.5" fill="#4390cf"/>
<circle cx="301.7" cy="192" r="2.5" fill="#4390cf"/>
<circle cx="309.1" cy="203.1" r="2.5" fill="#4390cf"/>
<circle cx="316.9" cy="213.75" r="2.5" fill="#4390cf"/>
<circle cx="323.9" cy="225" r="2.5" fill="#4390cf"/>
<circle cx="331" cy="234.75" r="2.5" fill="#4390cf"/>
<circle cx="338.1" cy="244" r="2.5" fill="#4390cf"/>
<circle cx="346" cy="254" r="2.5" fill="#4390cf"/>
<circle cx="353.5" cy="262.1" r="2.5" fill="#4390cf"/>
<circle cx="360.9" cy="269" r="2.5" fill="#4390cf"/>
<circle cx="368.25" cy="272.5" r="2.5" fill="#4390cf"/>
<circle cx="375.6" cy="272.5" r="2.5" fill="#4390cf"/>
<circle cx="382.9" cy="267.9" r="2.5" fill="#4390cf"/>
<circle cx="390" cy="260.6" r="2.5" fill="#4390cf"/>
<circle cx="397.25" cy="252.6" r="2.5" fill="#4390cf"/>
<circle cx="404.8" cy="241.6" r="2.5" fill="#4390cf"/>
<circle cx="411.8" cy="233.6" r="2.5" fill="#4390cf"/>
<circle cx="419.1" cy="223.3" r="2.5" fill="#4390cf"/>
<circle cx="426.7" cy="212.2" r="2.5" fill="#4390cf"/>
<circle cx="434" cy="201.9" r="2.5" fill="#4390cf"/>
<circle cx="441.6" cy="188.75" r="2.5" fill="#4390cf"/>
<rect x="286" y="164.3" width="166.39999999999998" height="128.09999999999997" fill="none" stroke="#1a1a1a" stroke-width="1.5"/>
<line x1="283.4" y1="280.88" x2="286" y2="280.88" stroke="#1a1a1a" stroke-width="1.4" />
<text transform="translate(282,284.68) scale(1,1.18)" font-size="11" text-anchor="end" style="font-family:'Liberation Serif',serif" fill="#111" >15</text>
<line x1="283.4" y1="255.86" x2="286" y2="255.86" stroke="#1a1a1a" stroke-width="1.4" />
<text transform="translate(282,259.66) scale(1,1.18)" font-size="11" text-anchor="end" style="font-family:'Liberation Serif',serif" fill="#111" >30</text>
<line x1="283.4" y1="230.84" x2="286" y2="230.84" stroke="#1a1a1a" stroke-width="1.4" />
<text transform="translate(282,234.64) scale(1,1.18)" font-size="11" text-anchor="end" style="font-family:'Liberation Serif',serif" fill="#111" >45</text>
<line x1="283.4" y1="205.82" x2="286" y2="205.82" stroke="#1a1a1a" stroke-width="1.4" />
<text transform="translate(282,209.62) scale(1,1.18)" font-size="11" text-anchor="end" style="font-family:'Liberation Serif',serif" fill="#111" >60</text>
<line x1="283.4" y1="180.8" x2="286" y2="180.8" stroke="#1a1a1a" stroke-width="1.4" />
<text transform="translate(282,184.6) scale(1,1.18)" font-size="11" text-anchor="end" style="font-family:'Liberation Serif',serif" fill="#111" >75</text>
<line x1="284.5" y1="268.37" x2="286" y2="268.37" stroke="#1a1a1a" stroke-width="1.2" />
<line x1="284.5" y1="243.35" x2="286" y2="243.35" stroke="#1a1a1a" stroke-width="1.2" />
<line x1="284.5" y1="218.33" x2="286" y2="218.33" stroke="#1a1a1a" stroke-width="1.2" />
<line x1="284.5" y1="193.31" x2="286" y2="193.31" stroke="#1a1a1a" stroke-width="1.2" />
<line x1="284.5" y1="168.29" x2="286" y2="168.29" stroke="#1a1a1a" stroke-width="1.2" />
<line x1="286" y1="292.4" x2="286" y2="294.8" stroke="#1a1a1a" stroke-width="1.4" />
<text transform="translate(286,305.2) scale(1,1.18)" font-size="11" text-anchor="middle" style="font-family:'Liberation Serif',serif" fill="#111" >146</text>
<line x1="333.4" y1="292.4" x2="333.4" y2="294.8" stroke="#1a1a1a" stroke-width="1.4" />
<text transform="translate(333.4,305.2) scale(1,1.18)" font-size="11" text-anchor="middle" style="font-family:'Liberation Serif',serif" fill="#111" >148</text>
<line x1="380.8" y1="292.4" x2="380.8" y2="294.8" stroke="#1a1a1a" stroke-width="1.4" />
<text transform="translate(380.8,305.2) scale(1,1.18)" font-size="11" text-anchor="middle" style="font-family:'Liberation Serif',serif" fill="#111" >150</text>
<line x1="428.2" y1="292.4" x2="428.2" y2="294.8" stroke="#1a1a1a" stroke-width="1.4" />
<text transform="translate(428.2,305.2) scale(1,1.18)" font-size="11" text-anchor="middle" style="font-family:'Liberation Serif',serif" fill="#111" >152</text>
<line x1="309.7" y1="292.4" x2="309.7" y2="293.8" stroke="#1a1a1a" stroke-width="1.2" />
<line x1="357.1" y1="292.4" x2="357.1" y2="293.8" stroke="#1a1a1a" stroke-width="1.2" />
<line x1="404.5" y1="292.4" x2="404.5" y2="293.8" stroke="#1a1a1a" stroke-width="1.2" />
<line x1="451.9" y1="292.4" x2="451.9" y2="293.8" stroke="#1a1a1a" stroke-width="1.2" />
<text transform="translate(376,317.3) scale(1,1.18)" font-size="11.4" text-anchor="middle" style="font-family:'Liberation Serif',serif" fill="#111" >Location (mm)</text>
<text transform="translate(266,236.6) rotate(-90)" font-size="11.4" text-anchor="middle" style="font-family:'Liberation Serif',serif" fill="#111">Beam Radius (&#181;m)</text>
<text transform="translate(254.5,166) scale(1,1.08)" font-size="12.5" text-anchor="middle" style="font-family:'Liberation Sans',sans-serif" fill="#111" >d</text>
<rect x="349.8" y="171.9" width="4.2" height="4.2" fill="#f6a863"/>
<circle cx="366.1" cy="174" r="2.6" fill="#4390cf"/>
<text transform="translate(377.6,177.3) scale(1,1.18)" font-size="9.2" text-anchor="start" style="font-family:'Liberation Serif',serif" fill="#111" >R</text>
<line x1="315.9" y1="183.4" x2="334.6" y2="183.4" stroke="#f6a863" stroke-width="1.4" />
<text transform="translate(337.4,186.6) scale(1,1.18)" font-size="8.62" text-anchor="start" style="font-family:'Liberation Serif',serif" fill="#111" >fit-R&#160;&#160;&#160;1 km&#160;&#160;&#160;AR-HCF</text>
<text transform="translate(370,196) scale(1,1.18)" font-size="9" text-anchor="middle" style="font-family:'Liberation Serif',serif" fill="#111" >M<tspan font-size="6" dy="-3.5">2</tspan><tspan dy="3.5">=1.3</tspan></text>
<line x1="314.5" y1="202.8" x2="333.9" y2="202.8" stroke="#4390cf" stroke-width="1.4" />
<text transform="translate(336.2,206) scale(1,1.18)" font-size="8.62" text-anchor="start" style="font-family:'Liberation Serif',serif" fill="#111" >fit-R 2.45 km AR-HCF</text>
<text transform="translate(369.5,217.5) scale(1,1.18)" font-size="9" text-anchor="middle" style="font-family:'Liberation Serif',serif" fill="#111" >M<tspan font-size="6" dy="-3.5">2</tspan><tspan dy="3.5">=1.29</tspan></text>
<rect x="500.7" y="49.1" width="71.1" height="52.2" fill="#061899"/>
<rect x="500.7" y="72.3" width="71.1" height="23.4" fill="#0530cc"/>
<path d="M500.7,80 L512,72.3 L516,72.3 L503,84 L500.7,86Z" fill="#3060e8" opacity="0.7"/>
<path d="M503,95.7 L518,79 L521,79 L507,95.7Z" fill="#3060e8" opacity="0.5"/>
<rect x="522" y="78" width="38" height="5" fill="#0420b0"/>
<rect x="562" y="82" width="9.8" height="13.7" fill="#0a1aa6"/>
<rect x="500.7" y="95.7" width="71.1" height="5.6" fill="#0a1aa8"/>
<rect x="518.3" y="49.1" width="1.4" height="23" fill="#1a36c8" opacity="0.5"/>
<rect x="500.7" y="75.8" width="61" height="1.1" fill="#3aa0ff"/>
<rect x="524" y="75.5" width="19.5" height="1.6" fill="url(#hot)"/>
<rect x="573.1" y="49.3" width="1.9" height="52.0" fill="url(#jet)"/>
<text transform="translate(575.5,51.6) scale(1,1.18)" font-size="5.9" text-anchor="start" style="font-family:'Liberation Serif',serif" fill="#111" >58.6</text>
<text transform="translate(575.5,100.8) scale(1,1.18)" font-size="5.9" text-anchor="start" style="font-family:'Liberation Serif',serif" fill="#111" >26.4</text>
<text transform="translate(571.5,106.8) scale(1,1.18)" font-size="6" text-anchor="start" style="font-family:'Liberation Serif',serif" fill="#111" >&#176;C</text>
<text transform="translate(502.4,55.1) scale(1,1.18)" font-size="5.9" text-anchor="start" style="font-family:'Liberation Serif',serif" fill="#f4f6ff" >Max=58.59</text>
<text transform="translate(502.4,62.1) scale(1,1.18)" font-size="5.9" text-anchor="start" style="font-family:'Liberation Serif',serif" fill="#f4f6ff" ><tspan font-style="italic">A</tspan>vg=28.03</text>
<text transform="translate(502.4,69.1) scale(1,1.18)" font-size="5.9" text-anchor="start" style="font-family:'Liberation Serif',serif" fill="#f4f6ff" >Min=26.41</text>
<rect x="588.8" y="49" width="69.1" height="52.3" fill="#0019aa"/>
<rect x="602.9" y="52" width="40.9" height="40" fill="#0328c4"/>
<rect x="645" y="49" width="12.9" height="52.3" fill="#00149a"/>
<path d="M602.9,83 A20.4,2.6 0 0,0 643.7,83" fill="none" stroke="#2a5cf0" stroke-width="0.8"/>
<path d="M602.9,85.6 A20.4,2.6 0 0,0 643.7,85.6" fill="none" stroke="#2a5cf0" stroke-width="0.8"/>
<path d="M603.2,89.4 A20.2,3.4 0 0,0 643.5,89.4" fill="none" stroke="url(#arc)" stroke-width="1.3"/>
<rect x="588.8" y="99" width="69.1" height="1.2" fill="#1640e0" opacity="0.6"/>
<rect x="659.2" y="49.3" width="1.9" height="52.0" fill="url(#jet)"/>
<text transform="translate(661.2,51.6) scale(1,1.18)" font-size="5.9" text-anchor="start" style="font-family:'Liberation Serif',serif" fill="#111" >58.8</text>
<text transform="translate(661.2,100.8) scale(1,1.18)" font-size="5.9" text-anchor="start" style="font-family:'Liberation Serif',serif" fill="#111" >17.7</text>
<text transform="translate(658,106.8) scale(1,1.18)" font-size="6" text-anchor="start" style="font-family:'Liberation Serif',serif" fill="#111" >&#176;C</text>
<text transform="translate(592.5,55.1) scale(1,1.18)" font-size="5.9" text-anchor="start" style="font-family:'Liberation Serif',serif" fill="#f4f6ff" >Max=58.80</text>
<text transform="translate(592.5,62.1) scale(1,1.18)" font-size="5.9" text-anchor="start" style="font-family:'Liberation Serif',serif" fill="#f4f6ff" ><tspan font-style="italic">A</tspan>vg=22.19</text>
<text transform="translate(592.5,69.1) scale(1,1.18)" font-size="5.9" text-anchor="start" style="font-family:'Liberation Serif',serif" fill="#f4f6ff" >Min=19.42</text>
<line x1="538.6" y1="79.1" x2="530.6" y2="106.5" stroke="#f0902c" stroke-width="0.9" />
<path d="M528.3,104.2 L530,109 L532.3,105.4Z" fill="#f0902c"/>
<line x1="550.5" y1="79" x2="558.9" y2="106.5" stroke="#f0902c" stroke-width="0.9" />
<path d="M556.6,105.4 L559.2,109 L560.7,104.2Z" fill="#f0902c"/>
<text transform="translate(531.8,117.6) scale(1,1.18)" font-size="6.75" text-anchor="middle" style="font-family:'Liberation Serif',serif" fill="#f26a22" font-weight="bold">fusion point</text>
<text transform="translate(560.8,117.6) scale(1,1.18)" font-size="6.5" text-anchor="middle" style="font-family:'Liberation Serif',serif" fill="#f26a22" font-weight="bold">CLS</text>
<text transform="translate(468,165.6) scale(1,1.08)" font-size="12.5" text-anchor="middle" style="font-family:'Liberation Sans',sans-serif" fill="#111" >e</text>
<rect x="490.1" y="164.3" width="59" height="58.4" fill="#4339bc"/>
<circle cx="520.5" cy="193.8" r="24" fill="url(#beam)"/>
<rect x="557.1" y="164.3" width="59" height="58.4" fill="#4339bc"/>
<circle cx="587.5" cy="193.8" r="24" fill="url(#beam)"/>
<rect x="623.9" y="164.3" width="59" height="58.4" fill="#4339bc"/>
<circle cx="654.3" cy="193.8" r="24" fill="url(#beam)"/>
<rect x="490.1" y="230" width="59" height="58.4" fill="#4339bc"/>
<circle cx="520.5" cy="259.5" r="24" fill="url(#beam)"/>
<rect x="557.1" y="230" width="59" height="58.4" fill="#4339bc"/>
<circle cx="587.5" cy="259.5" r="24" fill="url(#beam)"/>
<rect x="623.9" y="230" width="59" height="58.4" fill="#4339bc"/>
<circle cx="654.3" cy="259.5" r="24" fill="url(#beam)"/>
<rect x="474.3" y="164.8" width="11.8" height="57.8" fill="#5c9cf6"/>
<text transform="translate(481.7,195.1) rotate(-90)" font-size="7.2" text-anchor="middle" style="font-family:'Liberation Serif',serif" fill="#13235a">1 km AR-HCF</text>
<rect x="474.3" y="230.5" width="11.8" height="57.8" fill="#5c9cf6"/>
<text transform="translate(481.7,259.3) rotate(-90)" font-size="7.2" text-anchor="middle" style="font-family:'Liberation Serif',serif" fill="#13235a">2.45 km AR-HCF</text>
<rect x="491.1" y="291.9" width="57.8" height="12" fill="#5c9cf6"/>
<text x="520.1" y="300.6" font-size="7.8" text-anchor="middle" style="font-family:'Liberation Serif',serif" fill="#13235a"><tspan font-style="italic">P</tspan><tspan font-size="5.2" dy="1.6">in</tspan><tspan dy="-1.6"> = 1018 W</tspan></text>
<rect x="558.1" y="291.9" width="57.8" height="12" fill="#5c9cf6"/>
<text x="587.1" y="300.6" font-size="7.8" text-anchor="middle" style="font-family:'Liberation Serif',serif" fill="#13235a"><tspan font-style="italic">P</tspan><tspan font-size="5.2" dy="1.6">in</tspan><tspan dy="-1.6"> = 1611 W</tspan></text>
<rect x="624.9" y="291.9" width="57.8" height="12" fill="#5c9cf6"/>
<text x="653.9" y="300.6" font-size="7.8" text-anchor="middle" style="font-family:'Liberation Serif',serif" fill="#13235a"><tspan font-style="italic">P</tspan><tspan font-size="5.2" dy="1.6">in</tspan><tspan dy="-1.6"> = 2400 W</tspan></text></svg>
</body></html>
